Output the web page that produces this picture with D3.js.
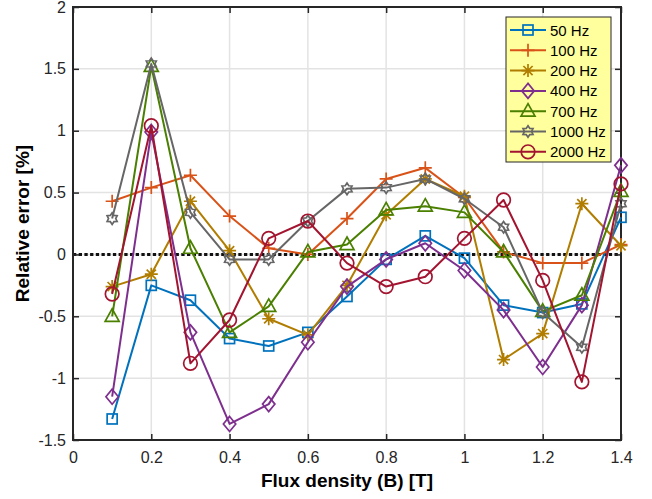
<!DOCTYPE html>
<head>
  <meta charset="utf-8">
  <title>Relative error vs flux density</title>
  <style>
    body { margin: 0; background: #fff; }
    text { font-family: "Liberation Sans", Arial, sans-serif; }
  </style>
</head>
<body>
<script src="https://d3js.org/d3.v7.min.js"></script>
<script>
// Flux density values (x axis)
var fluxB = [0.1, 0.2, 0.3, 0.4, 0.5, 0.6, 0.7, 0.8, 0.9, 1.0, 1.1, 1.2, 1.3, 1.4];

// Relative error [%] per frequency
var err50   = [-1.33, -0.25, -0.37, -0.68, -0.74, -0.63, -0.34, -0.04, 0.15, -0.03, -0.41, -0.47, -0.40, 0.30];
var err100  = [0.43, 0.54, 0.64, 0.31, 0.05, 0.00, 0.29, 0.61, 0.70, 0.46, 0.02, -0.07, -0.07, 0.08];
var err200  = [-0.26, -0.16, 0.43, 0.03, -0.52, -0.65, -0.25, 0.32, 0.61, 0.47, -0.85, -0.64, 0.41, 0.07];
var err400  = [-1.15, 0.99, -0.63, -1.37, -1.21, -0.71, -0.26, -0.04, 0.09, -0.13, -0.45, -0.91, -0.41, 0.72];
var err700  = [-0.50, 1.52, 0.05, -0.63, -0.42, 0.02, 0.08, 0.36, 0.39, 0.34, 0.02, -0.46, -0.33, 0.51];
var err1000 = [0.29, 1.54, 0.34, -0.04, -0.04, 0.27, 0.53, 0.54, 0.61, 0.45, 0.22, -0.47, -0.75, 0.41];
var err2000 = [-0.32, 1.04, -0.88, -0.53, 0.13, 0.27, -0.07, -0.26, -0.18, 0.13, 0.44, -0.21, -1.03, 0.57];

var seriesNames = ["50 Hz", "100 Hz", "200 Hz", "400 Hz", "700 Hz", "1000 Hz", "2000 Hz"];
var seriesValues = [err50, err100, err200, err400, err700, err1000, err2000];
var seriesColors = ["#0072BD", "#D95319", "#B07D00", "#7E2F8E", "#4A7F00", "#666666", "#A2142F"];
var seriesMarkers = ["square", "plus", "asterisk", "diamond", "triangle", "hexagram", "circle"];

var xTicks = [0, 0.2, 0.4, 0.6, 0.8, 1, 1.2, 1.4];
var yTicks = [-1.5, -1, -0.5, 0, 0.5, 1, 1.5, 2];

var W = 652, H = 499;
var margin = {top: 7, right: 31, bottom: 59, left: 73},
    width = W - margin.left - margin.right,
    height = H - margin.top - margin.bottom;

var svg = d3.select("body").append("svg")
    .attr("width", W)
    .attr("height", H);

var g = svg.append("g")
    .attr("transform", "translate(" + margin.left + "," + margin.top + ")");

var x = d3.scaleLinear().domain([0, 1.4]).range([0, width]);
var y = d3.scaleLinear().domain([-1.5, 2]).range([height, 0]);

// grid
g.append("g").selectAll("line").data(xTicks).enter().append("line")
    .attr("x1", d => x(d)).attr("x2", d => x(d))
    .attr("y1", 0).attr("y2", height)
    .attr("stroke", "#e3e3e3").attr("stroke-width", 1.5);
g.append("g").selectAll("line").data(yTicks).enter().append("line")
    .attr("y1", d => y(d)).attr("y2", d => y(d))
    .attr("x1", 0).attr("x2", width)
    .attr("stroke", "#e3e3e3").attr("stroke-width", 1.5);

// zero reference line (dotted)
g.append("line")
    .attr("x1", 0).attr("x2", width)
    .attr("y1", y(0)).attr("y2", y(0))
    .attr("stroke", "#111").attr("stroke-width", 3)
    .attr("stroke-dasharray", "3.3,2.4");

// axes, ticks pointing inwards
function styleAxis(sel) {
  sel.select(".domain").remove();
  sel.selectAll(".tick line").attr("stroke", "#262626").attr("stroke-width", 1.5);
  sel.selectAll(".tick text").attr("fill", "#262626").style("font-size", "16px")
      .style("font-family", "'Liberation Sans', Arial, sans-serif");
}
var xAxis = g.append("g").attr("transform", "translate(0," + height + ")")
    .call(d3.axisBottom(x).tickValues(xTicks).tickFormat(d3.format("")).tickSizeInner(-6).tickPadding(12));
styleAxis(xAxis);
var xAxisTop = g.append("g")
    .call(d3.axisTop(x).tickValues(xTicks).tickFormat("").tickSizeInner(-6));
styleAxis(xAxisTop);
var yAxis = g.append("g")
    .call(d3.axisLeft(y).tickValues(yTicks).tickFormat(d3.format("")).tickSizeInner(-6).tickPadding(7));
styleAxis(yAxis);
yAxis.selectAll(".tick text").text(d => d3.format("")(d).replace("−", "-"));
var yAxisRight = g.append("g").attr("transform", "translate(" + width + ",0)")
    .call(d3.axisRight(y).tickValues(yTicks).tickFormat("").tickSizeInner(-6));
styleAxis(yAxisRight);

g.append("rect")
    .attr("width", width).attr("height", height)
    .attr("fill", "none").attr("stroke", "#262626").attr("stroke-width", 2);

// marker drawing
function marker(sel, type, color) {
  sel.each(function() {
    var m = d3.select(this);
    var common = function(s) { return s.attr("fill", "none").attr("stroke", color).attr("stroke-width", 1.7); };
    if (type === "square") {
      m.append("rect").attr("x", -5).attr("y", -5).attr("width", 10).attr("height", 10).call(common);
    } else if (type === "plus") {
      m.append("path").attr("d", "M-6.5,0H6.5M0,-6.5V6.5").call(common);
    } else if (type === "asterisk") {
      m.append("path").attr("d", "M-6.5,0H6.5M0,-6.5V6.5M-4.6,-4.6L4.6,4.6M-4.6,4.6L4.6,-4.6").call(common);
    } else if (type === "diamond") {
      m.append("path").attr("d", "M0,-7.5L6.2,0L0,7.5L-6.2,0Z").call(common);
    } else if (type === "triangle") {
      m.append("path").attr("d", "M0,-7.5L7,5L-7,5Z").call(common);
    } else if (type === "hexagram") {
      var pts = [];
      for (var i = 0; i < 12; i++) {
        var r = i % 2 === 0 ? 5.8 : 3.6;
        var a = -Math.PI / 2 + i * Math.PI / 6;
        pts.push([r * Math.cos(a), r * Math.sin(a)]);
      }
      m.append("path").attr("d", "M" + pts.join("L") + "Z").call(common);
    } else if (type === "circle") {
      m.append("circle").attr("r", 6.8).call(common);
    }
  });
}

var line = d3.line().x((d, i) => x(fluxB[i])).y(d => y(d));

seriesValues.forEach(function(vals, k) {
  var s = g.append("g");
  s.append("path").datum(vals)
      .attr("d", line)
      .attr("fill", "none")
      .attr("stroke", seriesColors[k])
      .attr("stroke-width", 2)
      .attr("stroke-linejoin", "round");
  s.selectAll("g.mk").data(vals).enter().append("g")
      .attr("class", "mk")
      .attr("transform", (d, i) => "translate(" + x(fluxB[i]) + "," + y(d) + ")")
      .call(marker, seriesMarkers[k], seriesColors[k]);
});

// legend
var lg = svg.append("g").attr("transform", "translate(506,17)");
lg.append("rect")
    .attr("width", 105).attr("height", 145)
    .attr("fill", "#ffff9e").attr("stroke", "#262626").attr("stroke-width", 1);
seriesNames.forEach(function(name, k) {
  var row = lg.append("g").attr("transform", "translate(0," + (13 + k * 20.3) + ")");
  row.append("line").attr("x1", 4).attr("x2", 40).attr("y1", 0).attr("y2", 0)
      .attr("stroke", seriesColors[k]).attr("stroke-width", 2);
  row.append("g").attr("transform", "translate(22,0)").call(marker, seriesMarkers[k], seriesColors[k]);
  row.append("text").attr("x", 44).attr("y", 5.5)
      .style("font-size", "15px").attr("fill", "#000").text(name);
});

// axis labels
svg.append("text")
    .attr("x", margin.left + width / 2).attr("y", 487)
    .attr("text-anchor", "middle")
    .style("font-size", "19px").style("font-weight", "bold")
    .text("Flux density (B) [T]");
svg.append("text")
    .attr("transform", "translate(29," + (margin.top + height / 2) + ") rotate(-90)")
    .attr("text-anchor", "middle")
    .style("font-size", "19px").style("font-weight", "bold")
    .text("Relative error [%]");
</script>
</body>
